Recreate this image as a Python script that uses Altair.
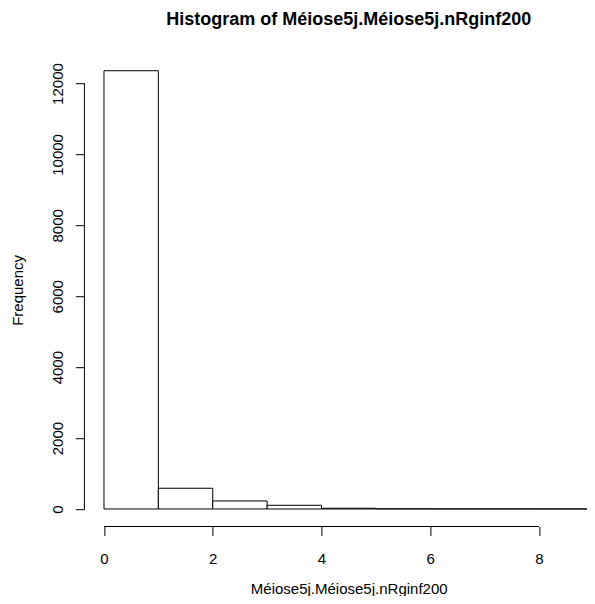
import altair as alt
import pandas as pd

# ---- data ----
bin_start = [0, 1, 2, 3, 4, 5, 6, 7, 8]
bin_end = [1, 2, 3, 4, 5, 6, 7, 8, 9]
counts = [12361, 584, 226, 104, 20, 6, 3, 2, 1]
x_ticks = [0, 2, 4, 6, 8]
y_ticks = [0, 2000, 4000, 6000, 8000, 10000, 12000]
title_text = "Histogram of Méiose5j.Méiose5j.nRginf200"
x_title = "Méiose5j.Méiose5j.nRginf200"
y_title = "Frequency"

df = pd.DataFrame({"start": bin_start, "end": bin_end, "count": counts,
                   "zero": [0] * len(counts)})

# R-style axis ranges (4% expansion)
ymax = max(counts)
y_dom = [-0.04 * ymax, 1.04 * ymax]
px_per_unit = 54.38
W = 502.6
H = 473.3
x_dom = [-0.36, -0.36 + W / px_per_unit]
plot_center_px = 264.3  # centre of R's full plot region (which runs past the page edge)

FONT = "Liberation Sans, Arial, Helvetica, sans-serif"

xscale = alt.Scale(domain=x_dom, nice=False, zero=False)
yscale = alt.Scale(domain=y_dom, nice=False, zero=False)

xaxis = alt.Axis(values=x_ticks, domain=False, grid=False, tickSize=9,
                 tickColor="black", tickWidth=1, labelFont=FONT, labelFontSize=15,
                 labelColor="black", labelPadding=16, labelFlush=False,
                 labelOverlap=False, title=x_title, titleFont=FONT,
                 titleFontSize=15, titleFontWeight="normal", titleColor="black",
                 titleX=plot_center_px, titleY=66.5, titleAlign="center",
                 titleBaseline="alphabetic")
yaxis = alt.Axis(values=y_ticks, domain=False, grid=False, tickSize=9,
                 tickColor="black", tickWidth=1, labelFont=FONT, labelFontSize=15,
                 labelColor="black", labelPadding=12.7, labelAngle=270,
                 labelAlign="center", labelBaseline="alphabetic",
                 labelFlush=False, labelOverlap=False, format="d",
                 title=y_title, titleFont=FONT, titleFontSize=15,
                 titleFontWeight="normal", titleColor="black", titleAngle=270,
                 titleX=-61.9, titleY=236.7, titleAlign="center",
                 titleBaseline="alphabetic")

bars = alt.Chart(df).mark_rect(fill="white", stroke="black", strokeWidth=1,
                               clip=True).encode(
    x=alt.X("start:Q", scale=xscale, axis=xaxis, title=x_title),
    x2="end:Q",
    y=alt.Y("count:Q", scale=yscale, axis=yaxis, title=y_title),
    y2="zero:Q",
)

xline_df = pd.DataFrame({"start": [min(x_ticks)], "end": [max(x_ticks)],
                         "count": [y_dom[0]]})
xline = alt.Chart(xline_df).mark_rule(color="black", strokeWidth=1).encode(
    x=alt.X("start:Q", scale=xscale, axis=xaxis, title=x_title),
    x2="end:Q",
    y=alt.Y("count:Q", scale=yscale, axis=yaxis, title=y_title),
)

yline_df = pd.DataFrame({"start": [x_dom[0]], "count": [min(y_ticks)],
                         "top": [max(y_ticks)]})
yline = alt.Chart(yline_df).mark_rule(color="black", strokeWidth=1).encode(
    x=alt.X("start:Q", scale=xscale, axis=xaxis, title=x_title),
    y=alt.Y("count:Q", scale=yscale, axis=yaxis, title=y_title),
    y2="top:Q",
)

title_df = pd.DataFrame({"label": [title_text]})
title = alt.Chart(title_df).mark_text(
    font=FONT, fontSize=18, fontWeight="bold", color="black",
    align="center", baseline="alphabetic",
).encode(
    x=alt.value(plot_center_px),
    y=alt.value(-28.2),
    text="label:N",
)

chart = alt.layer(bars, xline, yline, title).properties(
    width=W,
    height=H,
    padding={"left": 76.4, "top": 45.2, "right": 0, "bottom": 69.5},
    autosize=alt.AutoSizeParams(type="none"),
    background="white",
).configure_view(stroke=None)

chart.save("out.html", embed_options={"renderer": "svg", "actions": False})
